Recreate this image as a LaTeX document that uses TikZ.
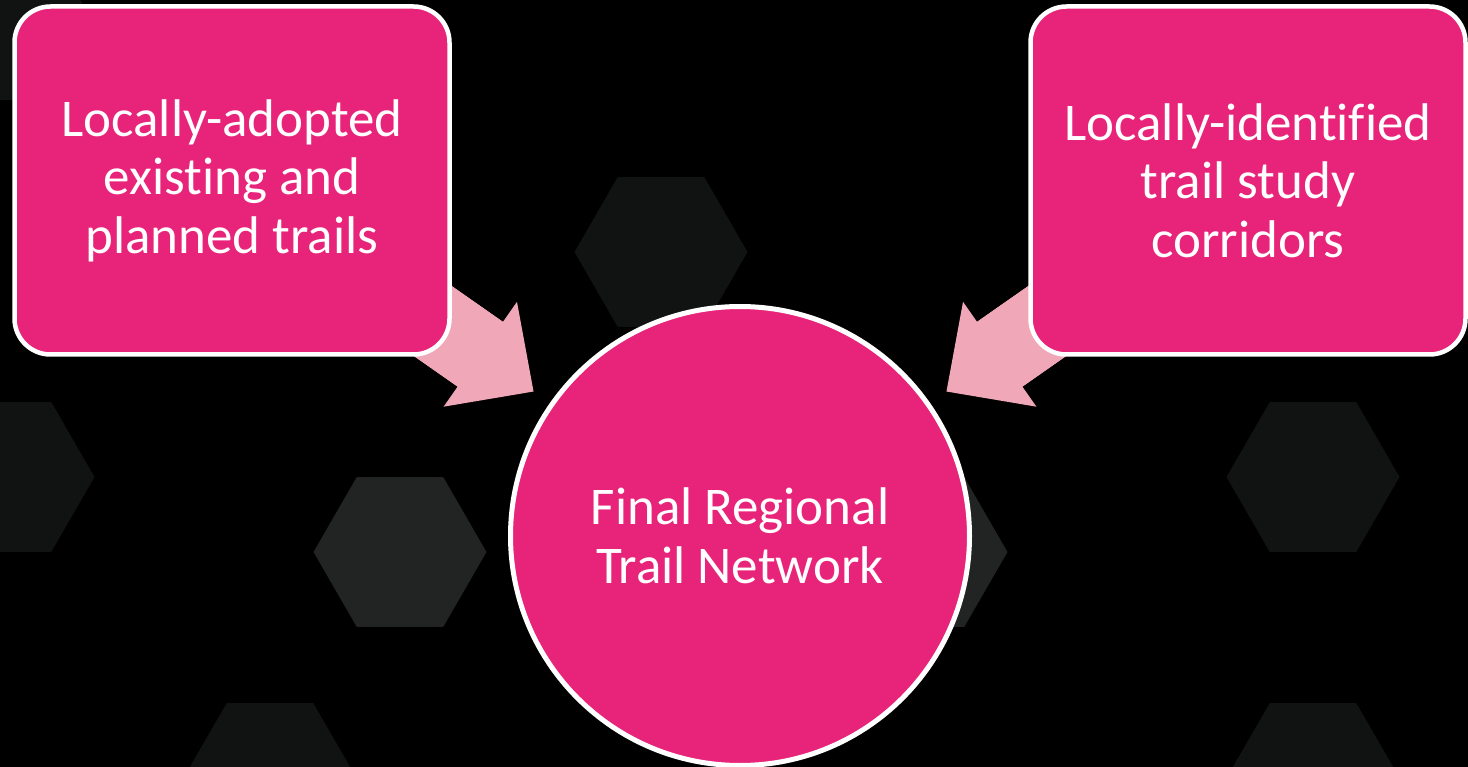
\documentclass[tikz,border=0pt]{standalone}
\usepackage{fontspec}
\setmainfont{Carlito}[Ligatures=NoCommon]
\usetikzlibrary{arrows.meta,calc}

\definecolor{trailpink}{HTML}{E8237A}
\definecolor{linkpink}{HTML}{F0A8B8}
\definecolor{hexdark}{HTML}{111312}
\definecolor{hexlight}{HTML}{212423}

\begin{document}
\begin{tikzpicture}[x=1pt,y=-1pt,
    source/.style={rectangle,rounded corners=36pt,fill=trailpink,draw=white,line width=4.5pt,
      minimum width=435pt,minimum height=348pt,inner sep=0pt,text=white,align=center,
      font=\fontsize{53}{58.5}\selectfont},
    target/.style={circle,fill=trailpink,draw=white,line width=5pt,minimum size=459pt,
      inner sep=0pt,text=white,align=center,font=\fontsize{53}{58.5}\selectfont},
    feedshaft/.style={linkpink,line width=79pt},
    feed/.style={feedshaft,-{Triangle[length=65pt,width=128pt,line width=0pt]}}]

  \useasboundingbox (0,0) rectangle (1468,767);
  \clip (0,0) rectangle (1468,767);
  \fill[black] (0,0) rectangle (1468,767);

  % hexagons in the back
  \foreach \hx/\hy in {8/25,661/252,8/477,1313/477,270/778,1313/778}
    \fill[hexdark] (\hx,\hy) +(0:86.5) -- +(60:86.5) -- +(120:86.5)
      -- +(180:86.5) -- +(240:86.5) -- +(300:86.5) -- cycle;
  \foreach \hx/\hy in {400/552,921/552}
    \fill[hexlight] (\hx,\hy) +(0:86.5) -- +(60:86.5) -- +(120:86.5)
      -- +(180:86.5) -- +(240:86.5) -- +(300:86.5) -- cycle;

  \coordinate (adoptedpos) at (232,180.5);
  \coordinate (corridorspos) at (1248,180.5);
  \coordinate (networkpos) at (740,536);

  % block arrows, shaft run a bit into the head
  \foreach \src in {adoptedpos,corridorspos} {
    \draw[feed] (\src) -- ($(networkpos)!252pt!(\src)$);
    \draw[feedshaft] (\src) -- ($(networkpos)!305pt!(\src)$);
  }

  \node[source] (adopted) at (adoptedpos) {Locally-adopted\\existing and\\planned trails};
  \node[source] (corridors) at (corridorspos) {Locally-identified\\trail study\\corridors};
  \node[target] (network) at (networkpos) {Final Regional\\Trail Network};
\end{tikzpicture}
\end{document}
